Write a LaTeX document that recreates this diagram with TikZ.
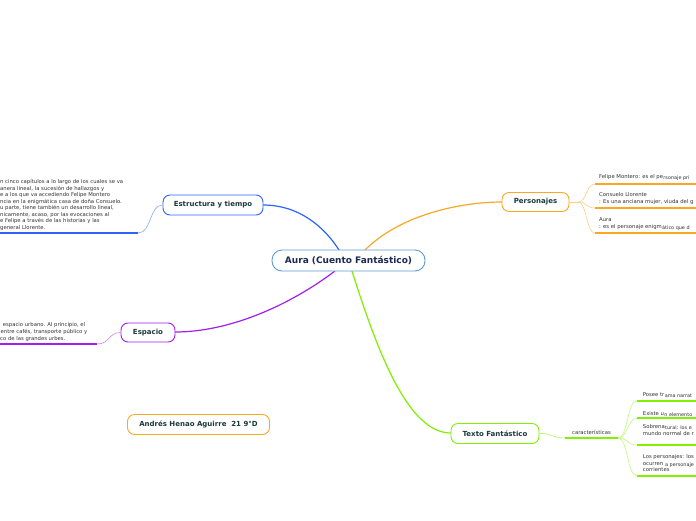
\documentclass[tikz,border=0pt]{standalone}
\usepackage{fontspec}
\setmainfont{DejaVu Sans}
\usetikzlibrary{calc}
\definecolor{cblue}{HTML}{2F62FF}
\definecolor{corange}{HTML}{F9A825}
\definecolor{cpurple}{HTML}{A01EF0}
\definecolor{cgreen}{HTML}{80F000}
\definecolor{ccenter}{HTML}{5B9BD5}
\definecolor{ctext}{HTML}{1A3A3A}
\definecolor{cnavy}{HTML}{1B2A52}
\definecolor{csub}{HTML}{333333}
\begin{document}
\begin{tikzpicture}[x=1pt,y=-1pt,
  topic/.style={draw, rounded corners=7pt, fill=white, line width=0.9pt,
    font=\fontsize{7}{8}\selectfont\bfseries, text=ctext, inner sep=0pt},
  sub/.style={anchor=base west, inner sep=0pt, font=\fontsize{5.3}{6}\selectfont, text=csub},
  subb/.style={anchor=base west, inner sep=0pt, font=\fontsize{4.9}{5.5}\selectfont, text=csub},
  mainlink/.style={line width=1.2pt},
  thin/.style={line width=0.6pt},
  uline/.style={line width=1.8pt},
]
\useasboundingbox (0,0) rectangle (696,520);
\clip (0,0) rectangle (696,520);
\fill[white] (0,0) rectangle (696,520);

% ---- coordinates
\coordinate (cN1) at (339,250);
\coordinate (cN2) at (365,250);
\coordinate (cS1) at (335,271);
\coordinate (cS2) at (352,271);

% ---- main links
\draw[mainlink, cblue] (cN1) .. controls (325,228) and (300,205) .. (263,205);
\draw[mainlink, corange] (cN2) .. controls (400,215) and (460,202) .. (502,202);
\draw[mainlink, cpurple] (cS1) .. controls (290,305) and (230,332) .. (175,332);
\draw[mainlink, cgreen] (cS2) .. controls (380,360) and (410,433) .. (451,433);

% ---- nodes
\node[topic, draw=ccenter, text=cnavy, font=\fontsize{9}{10}\selectfont\bfseries,
  minimum width=153, minimum height=21, rounded corners=10pt] (c) at (348.5,260.5) {Aura (Cuento Fantástico)};
\node[topic, draw=cblue, minimum width=100, minimum height=20] (est) at (213,205) {Estructura y tiempo};
\node[topic, draw=corange, minimum width=67, minimum height=19] (per) at (535.5,202) {Personajes};
\node[topic, draw=cpurple, minimum width=54, minimum height=19] (esp) at (148,332.5) {Espacio};
\node[topic, draw=cgreen, minimum width=88, minimum height=20] (tf) at (495,433.5) {Texto Fantástico};
\node[topic, draw=corange, minimum width=142, minimum height=20] (au) at (198.5,424.5) {Andrés Henao Aguirre\ \ 21 9°D};

% ---- Estructura y tiempo sub
\coordinate (e0) at (0,233);
\coordinate (e1) at (138,233);
\draw[uline, cblue] (e0) -- (e1);
\draw[thin, cblue!55] (e1) .. controls (152,233) and (149,205) .. (est.west);
\foreach \t [count=\i from 0] in {
  {n cinco capítulos a lo largo de los cuales se va},
  {anera lineal, la sucesión de hallazgos y},
  {e a los que va accediendo Felipe Montero},
  {ncia en la enigmática casa de doña Consuelo.},
  {u parte, tiene también un desarrollo lineal,},
  {nicamente, acaso, por las evocaciones al},
  {e Felipe a través de las historias y las},
  {general Llorente.}}
  \node[sub] (et\i) at (0,{183.8+6.5*\i}) {\t};

% ---- Espacio sub
\coordinate (s0) at (0,344);
\coordinate (s1) at (97,344);
\draw[uline, cpurple] (s0) -- (s1);
\draw[thin, cpurple!55] (s1) .. controls (110,344) and (108,332.5) .. (esp.west);
\node[sub] (st0) at (2.7,326.8) {espacio urbano. Al principio, el};
\node[sub] (st1) at (0.5,333.4) {entre cafés, transporte público y};
\node[sub] (st2) at (0,340) {co de las grandes urbes.};

% ---- Personajes sub
\coordinate (p0) at (578,202);
\coordinate (p1) at (595,184);
\coordinate (p2) at (595,208);
\coordinate (p3) at (595,233);
\draw[thin, corange!55] (per.east) -- (p0);
\foreach \p in {p1,p2,p3}{
  \draw[thin, corange!55] (p0) .. controls (587,202) and (586,0 |- \p) .. (\p);
  \draw[uline, corange] (\p) -- ++(110,0);
}
\node[sub] (pa) at (599,178.3) {Felipe Montero: es el pe};
\node[subb] at ($(pa.base east)+(0,1)$) {rsonaje pri};
\node[sub] (pb) at (599,196.6) {Consuelo Llorente};
\node[sub] (pc) at (599,203.8) {: Es una anciana mujer, viuda del g};
\node[sub] (pd) at (599,221) {Aura};
\node[sub] (pe) at (599,228.2) {: es el personaje enigm};
\node[subb] at ($(pe.base east)+(0,1)$) {ático que d};

% ---- Texto Fantástico sub
\coordinate (t0) at (565,438);
\coordinate (t1) at (618,438);
\draw[thin, cgreen!60] (tf.east) .. controls (552,433) and (552,438) .. (t0);
\draw[uline, cgreen] (t0) -- (t1);
\node[sub, anchor=base] (car) at (591.5,434.5) {características};
\coordinate (q1) at (637,400.7);
\coordinate (q2) at (637,418.3);
\coordinate (q3) at (637,445);
\coordinate (q4) at (637,475.7);
\foreach \q in {q1,q2,q3,q4}{
  \draw[thin, cgreen!50] (t1) .. controls (628,438) and (627,0 |- \q) .. (\q);
  \draw[uline, cgreen] (\q) -- ++(70,0);
}
\node[sub] (qa) at (642.7,396.9) {Posee tr};
\node[subb] at ($(qa.base east)+(0,1)$) {ama narrat};
\node[sub] (qb) at (642.7,415) {Existe u};
\node[subb] at ($(qb.base east)+(0,1)$) {n elemento};
\node[sub] (qc) at (642.7,428.6) {Sobrena};
\node[subb] at ($(qc.base east)+(0,1)$) {tural: los e};
\node[sub] (qd) at (642.7,435.2) {mundo normal de r};
\node[sub] (qe) at (642.7,458.6) {Los personajes: los};
\node[sub] (qf) at (642.7,465.2) {ocurren};
\node[subb] at ($(qf.base east)+(0,1)$) {\ a personaje};
\node[sub] (qg) at (642.7,471.8) {corrientes};
\end{tikzpicture}
\end{document}
